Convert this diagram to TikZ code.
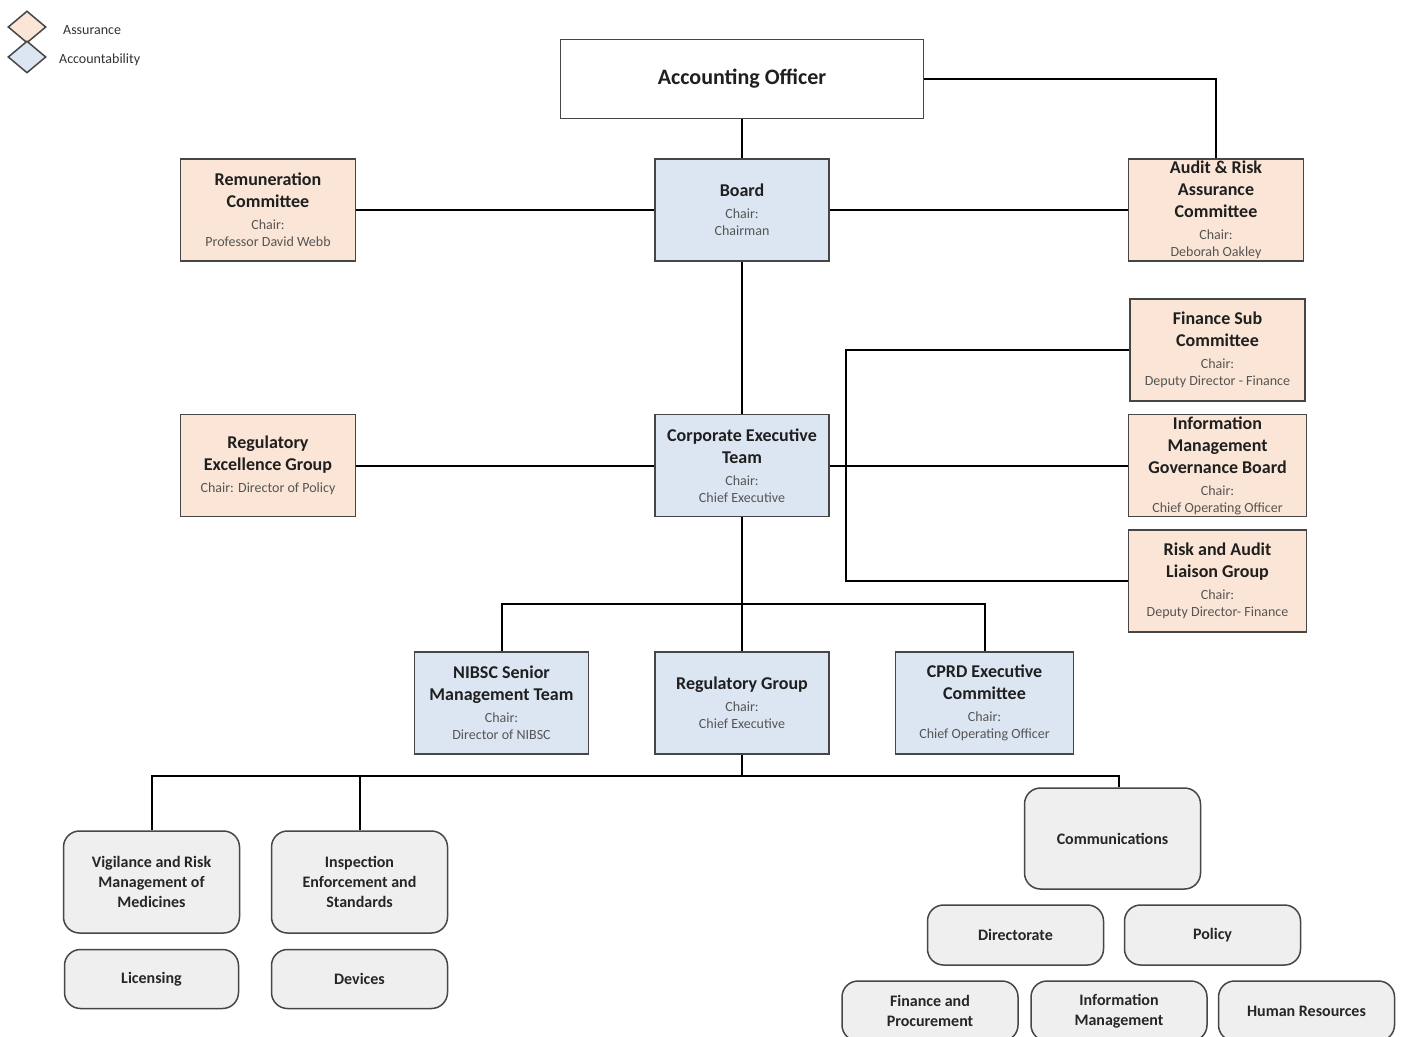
\documentclass[tikz,border=0pt]{standalone}
\usepackage{fontspec}
\setmainfont{Carlito}
\usetikzlibrary{positioning,shapes.geometric}
\definecolor{assurOrange}{RGB}{251,229,214}
\definecolor{accountBlue}{RGB}{220,230,242}
\definecolor{unitGray}{RGB}{239,239,239}
\definecolor{edgeGray}{RGB}{70,70,70}
\definecolor{chairGray}{RGB}{85,85,85}
\newcommand{\chairline}[1]{{\fontsize{7}{8.5}\selectfont\mdseries\color{chairGray}#1}}
\newcommand{\chairof}[1]{\chairline{Chair:}\\[-2.5pt]\chairline{#1}}

\begin{document}
\begin{tikzpicture}[x=0.5pt,y=-0.5pt,
  orgBox/.style={draw=edgeGray,line width=0.75pt,align=center,inner sep=0pt,
    font=\fontsize{9}{11}\selectfont\bfseries,text=black!88},
  assurBox/.style={orgBox,fill=assurOrange,minimum width=87.5pt,minimum height=51pt},
  accountBox/.style={orgBox,fill=accountBlue,minimum width=87pt,minimum height=51pt},
  unitBox/.style={draw=edgeGray,line width=0.75pt,fill=unitGray,rounded corners=8pt,
    align=center,inner sep=1pt,font=\fontsize{8}{10}\selectfont\bfseries,text=black!85,
    minimum width=88pt},
  legendMark/.style={diamond,draw=edgeGray,line width=0.75pt,inner sep=0pt,
    minimum width=19pt,minimum height=16pt},
  legendText/.style={inner sep=0pt,font=\fontsize{7}{8}\selectfont,text=black!80,yshift=-1.5pt},
  link/.style={line width=1pt,black}]
\path[use as bounding box,clip] (0,0) rectangle (1401,1037);
\fill[white] (0,0) rectangle (1401,1037);
%% legend
\node[legendMark,fill=assurOrange] (legendAssur) at (27,27) {};
\node[legendMark,fill=accountBlue] (legendAccount) at (27,57) {};
\node[legendText,right=8pt of legendAssur] (legendAssurText) {Assurance};
\node[legendText,right=6pt of legendAccount] (legendAccountText) {Accountability};
%the committees
\node[orgBox,fill=white,font=\fontsize{11}{13}\selectfont\bfseries,
  minimum width=181.5pt,minimum height=39.5pt] (accOfficer) at (742,79) {Accounting Officer};
\node[accountBox,below=19.5pt of accOfficer] (board) {Board\\\chairof{Chairman}};
\node[assurBox,left=149pt of board] (remuneration) {Remuneration\\Committee\\\chairof{Professor David Webb}};
\node[assurBox,right=149pt of board] (auditRisk) {Audit \& Risk\\Assurance\\Committee\\\chairof{Deborah Oakley}};
\node[accountBox,below=76pt of board] (cet) {Corporate Executive\\Team\\\chairof{Chief Executive}};
\node[assurBox,left=149pt of cet] (regExcellence) {Regulatory\\Excellence Group\\\chairline{Chair: Director of Policy}};
\node[assurBox,right=149pt of cet,minimum width=89pt] (infoGov) {Information\\Management\\Governance Board\\\chairof{Chief Operating Officer}};
\node[assurBox,above=6pt of infoGov] (financeSub) {Finance Sub\\Committee\\\chairof{Deputy Director - Finance}};
\node[assurBox,below=6pt of infoGov,minimum width=89pt] (riskAudit) {Risk and Audit\\Liaison Group\\\chairof{Deputy Director- Finance}};
\node[accountBox,below=67pt of cet] (regGroup) {Regulatory Group\\\chairof{Chief Executive}};
\node[accountBox,left=32.5pt of regGroup] (nibsc) {NIBSC Senior\\Management Team\\\chairof{Director of NIBSC}};
\node[accountBox,right=32.5pt of regGroup,minimum width=89pt] (cprd) {CPRD Executive\\Committee\\\chairof{Chief Operating Officer}};
%the units
\node[unitBox,minimum height=51pt] (vigilance) at (151.5,882) {Vigilance and Risk\\Management of\\Medicines};
\node[unitBox,minimum height=51pt] (inspection) at (359.5,882) {Inspection\\Enforcement and\\Standards};
\node[unitBox,minimum width=87pt,minimum height=29.5pt,below=7.5pt of vigilance] (licensing) {Licensing};
\node[unitBox,minimum height=29.5pt,below=7.5pt of inspection] (devices) {Devices};
\node[unitBox,minimum height=50.5pt] (comms) at (1112.5,838.5) {Communications};
\node[unitBox,minimum height=30pt] (directorate) at (1015.5,935) {Directorate};
\node[unitBox,minimum height=30pt] (policy) at (1212.5,935) {Policy};
\node[unitBox,minimum height=30pt] (financeProc) at (930,1011) {Finance and\\Procurement};
\node[unitBox,minimum height=30pt] (infoMgmt) at (1119,1011) {Information\\Management};
\node[unitBox,minimum height=30pt] (humanRes) at (1306.5,1011) {Human Resources};
%bus points
\coordinate (midBus) at (742,604);
\coordinate (rightBus) at (846,463);
\coordinate (lowBusLeft) at (152,776);
\coordinate (lowBusRight) at (1119,776);
%drawings of lines
\draw[link] (accOfficer.south) -- (board.north);
\draw[link] (accOfficer.east) -| (auditRisk.north);
\draw[link] (remuneration.east) -- (board.west);
\draw[link] (board.east) -- (auditRisk.west);
\draw[link] (board.south) -- (cet.north);
\draw[link] (regExcellence.east) -- (cet.west);
\draw[link] (cet.east) -- (infoGov.west);
\draw[link] (financeSub.west) -| (rightBus) |- (riskAudit.west);

\draw[link] (cet.south) -- (regGroup.north);
\draw[link] (nibsc.north) |- (midBus) -| (cprd.north);
\draw[link] (regGroup.south) -- (regGroup.south |- lowBusLeft);
\draw[link] (vigilance.north) |- (lowBusLeft) -- (lowBusRight) -- (lowBusRight |- comms.north);
\draw[link] (inspection.north) -- (inspection.north |- lowBusLeft);
\end{tikzpicture}
\end{document}
